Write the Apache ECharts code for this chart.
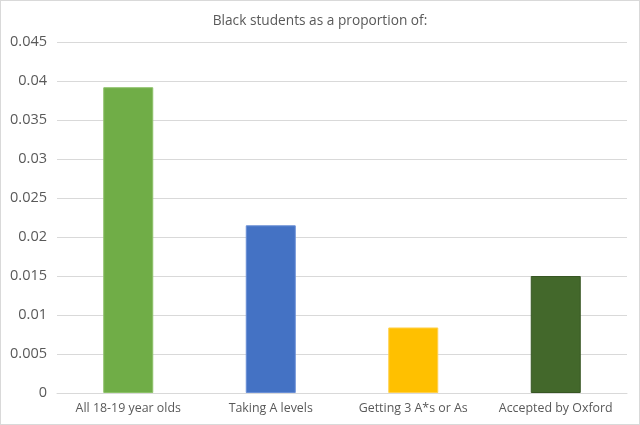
<!DOCTYPE html>
<html lang="en">
<head>
    <meta charset="UTF-8">
    <title>Black students as a proportion of</title>
    <script src="https://cdn.jsdelivr.net/npm/echarts@6/dist/echarts.min.js"></script>
    <style>
        html, body { margin: 0; padding: 0; background: #fff; }
        #main { width: 638px; height: 423px; border: 1px solid #d9d9d9; }
    </style>
</head>
<body>
    <div id="main"></div>
    <script type="text/javascript">
        // chart data
        var categories = ['All 18-19 year olds', 'Taking A levels', 'Getting 3 A*s or As', 'Accepted by Oxford'];
        var values = [0.0392, 0.0215, 0.0084, 0.0150];
        var barColors = ['#70AD47', '#4472C4', '#FFC000', '#43682B'];
        var borderColors = ['#8CC168', '#6A8FD6', '#FFD04D', '#375623'];

        var myChart = echarts.init(document.getElementById('main'));

        var option = {
            animation: false,
            textStyle: { fontFamily: 'Open Sans' },
            title: {
                text: 'Black students as a proportion of:',
                left: 'center',
                top: 8,
                textStyle: { fontSize: 13.7, fontWeight: 'normal', color: '#595959', fontFamily: 'Open Sans' }
            },
            grid: { left: 56, right: 12, top: 41, bottom: 31 },
            xAxis: {
                type: 'category',
                data: categories,
                axisTick: { show: false },
                axisLine: { lineStyle: { color: '#d9d9d9' } },
                axisLabel: { color: '#595959', fontSize: 12.4, margin: 9, interval: 0, hideOverlap: false }
            },
            yAxis: {
                type: 'value',
                min: 0,
                max: 0.045,
                interval: 0.005,
                axisLine: { show: false },
                axisTick: { show: false },
                splitLine: { lineStyle: { color: '#d9d9d9' } },
                axisLabel: {
                    color: '#595959',
                    fontSize: 14.5,
                    margin: 10,
                    formatter: function (v) { return String(Math.round(v * 1000) / 1000); }
                }
            },
            series: [{
                type: 'bar',
                barWidth: 50,
                data: values.map(function (v, i) {
                    return {
                        value: v,
                        itemStyle: { color: barColors[i], borderColor: borderColors[i], borderWidth: 1 }
                    };
                })
            }]
        };
        myChart.setOption(option);
    </script>
</body>
</html>
